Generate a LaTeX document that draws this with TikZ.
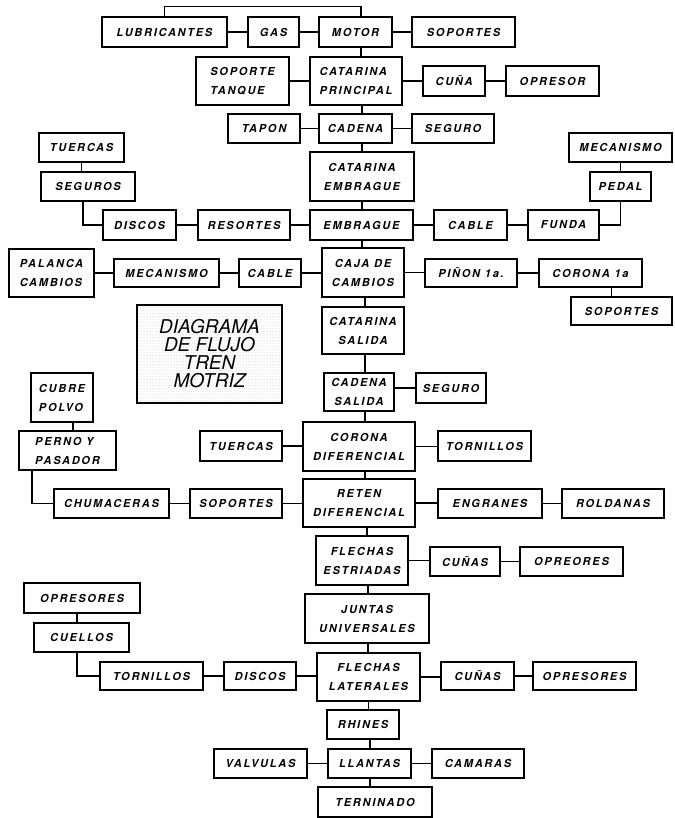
\documentclass[tikz,border=0pt]{standalone}
\usepackage{fontspec}
\setmainfont{TeX Gyre Heros}
\newfontfamily\lblfont[Extension=.otf, LetterSpace=16]{texgyreheros-bolditalic}
\usetikzlibrary{patterns}

% box given by its corners (left, top, right, bottom), y measured downwards
\newcommand\partbox[7][]{%
  \node[blk,#1,minimum width={(#5-#3)*1pt},minimum height={(#6-#4)*1pt}]
    (#2) at ({(#3+#5)/2},{-(#4+#6)/2}) {#7};}
% horizontal link at the height of the left / right box
\newcommand\hl[2]{\draw[link] (#1.east) -- (#1.east -| #2.west);}
\newcommand\hr[2]{\draw[link] (#2.west -| #1.east) -- (#2.west);}
% vertical link, shifted from the centre of the upper box
\newcommand\vl[3][0]{\draw[link] ([xshift=#1pt]#2.south) -- ([xshift=#1pt]#2.south |- #3.north);}

\begin{document}
\begin{tikzpicture}[x=1pt,y=1pt,
  blk/.style={draw, line width=1.2pt, inner sep=0pt, align=center,
    font=\lblfont\fontsize{11}{19}\selectfont},
  link/.style={line width=1.3pt},
  titlebox/.style={draw, line width=1.2pt, inner sep=0pt, align=center,
    pattern=dots, pattern color=black!30,
    font=\itshape\fontsize{19}{18}\selectfont},
]
\useasboundingbox (0,0) rectangle (674,-818);

% engine
\partbox{lub}{102}{17}{227}{47}{LUBRICANTES}
\partbox{gas}{248}{17}{299}{47}{GAS}
\partbox{mot}{319}{17}{392}{47}{MOTOR}
\partbox{sopa}{412}{17}{515}{47}{SOPORTES}
\partbox[align=left]{stq}{196}{57}{289}{105}{SOPORTE\\TANQUE}
\partbox[align=left]{catp}{310}{57}{402}{105}{CATARINA\\PRINCIPAL}
\partbox{cuna}{423}{66}{485}{96}{CUÑA}
\partbox{opra}{506}{66}{599}{96}{OPRESOR}
\partbox{tap}{228}{114}{300}{143}{TAPON}
\partbox{cad}{319}{114}{392}{143}{CADENA}
\partbox{sega}{412}{114}{494}{143}{SEGURO}

% clutch
\partbox{tuea}{39}{133}{124}{162}{TUERCAS}
\partbox{meca}{569}{133}{672}{162}{MECANISMO}
\partbox{cate}{310}{152}{414}{201}{CATARINA\\EMBRAGUE}
\partbox{segb}{41}{172}{135}{201}{SEGUROS}
\partbox{ped}{590}{172}{651}{201}{PEDAL}
\partbox{disa}{103}{210}{176}{240}{DISCOS}
\partbox{res}{198}{210}{290}{240}{RESORTES}
\partbox{emb}{310}{210}{413}{240}{EMBRAGUE}
\partbox{caba}{434}{210}{507}{240}{CABLE}
\partbox{fun}{528}{210}{599}{240}{FUNDA}

% gearbox
\partbox[align=left]{pal}{9}{249}{94}{297}{PALANCA\\CAMBIOS}
\partbox{mecb}{114}{259}{219}{287}{MECANISMO}
\partbox{cabb}{239}{259}{301}{287}{CABLE}
\partbox{caja}{322}{248}{404}{297}{CAJA DE\\CAMBIOS}
\partbox{pin}{425}{259}{517}{287}{PIÑON 1a.}
\partbox{cora}{539}{259}{642}{287}{CORONA 1a}
\partbox{sopb}{571}{297}{672}{325}{SOPORTES}

\node[titlebox, minimum width=145pt, minimum height=98pt] (ttl)
  at ({(137+282)/2},{-(305+403)/2}) {DIAGRAMA\\DE FLUJO\\TREN\\MOTRIZ};

% output chain and differential
\partbox{cats}{322}{307}{404}{354}{CATARINA\\SALIDA}
\partbox{cads}{324}{373}{394}{411}{CADENA\\SALIDA}
\partbox{segc}{416}{373}{486}{403}{SEGURO}
\partbox[align=left]{cub}{31}{373}{93}{422}{CUBRE\\POLVO}
\partbox[align=left]{per}{19}{431}{116}{470}{PERNO Y\\PASADOR}
\partbox{tueb}{200}{431}{282}{461}{TUERCAS}
\partbox{cord}{303}{422}{415}{471}{CORONA\\DIFERENCIAL}
\partbox{tora}{438}{431}{531}{461}{TORNILLOS}
\partbox{ret}{303}{479}{415}{527}{RETEN\\DIFERENCIAL}
\partbox{chu}{54}{489}{169}{518}{CHUMACERAS}
\partbox{sopc}{190}{489}{282}{518}{SOPORTES}
\partbox{eng}{438}{489}{542}{518}{ENGRANES}
\partbox{rol}{562}{489}{664}{518}{ROLDANAS}

% shafts
\partbox{fle}{316}{536}{408}{585}{FLECHAS\\ESTRIADAS}
\partbox{cunb}{430}{547}{500}{576}{CUÑAS}
\partbox{oprb}{520}{547}{623}{576}{OPREORES}
\partbox{oprc}{24}{583}{140}{613}{OPRESORES}
\partbox{cue}{34}{623}{129}{652}{CUELLOS}
\partbox{jun}{305}{594}{429}{643}{JUNTAS\\UNIVERSALES}
\partbox{torb}{100}{662}{203}{690}{TORNILLOS}
\partbox{disb}{224}{662}{296}{690}{DISCOS}
\partbox{fll}{317}{653}{420}{701}{FLECHAS\\LATERALES}
\partbox{cunc}{441}{662}{514}{690}{CUÑAS}
\partbox{oprd}{533}{662}{636}{690}{OPRESORES}

% wheels
\partbox{rhi}{327}{710}{399}{739}{RHINES}
\partbox{val}{214}{749}{307}{778}{VALVULAS}
\partbox{lla}{328}{749}{411}{778}{LLANTAS}
\partbox{cam}{432}{749}{524}{778}{CAMARAS}
\partbox{ter}{318}{787}{432}{817}{TERNINADO}

% links
\draw[link] (lub.north) -- ++(0,10) -| ([xshift=5.5pt]mot.north);
\hl{lub}{gas} \hl{gas}{mot} \hl{mot}{sopa}
\hl{stq}{catp} \hl{catp}{cuna} \hl{cuna}{opra}
\hl{tap}{cad} \hl{cad}{sega}
\vl[5.5]{mot}{catp} \vl[6]{catp}{cad} \vl[6.5]{cad}{cate}
\vl{cate}{emb}
\vl{tuea}{segb} \vl{meca}{ped}
\draw[link] ([xshift=-5pt]segb.south) |- (disa.west);
\hl{disa}{res} \hl{res}{emb} \hl{emb}{caba} \hl{caba}{fun}
\draw[link] (fun.east) -| (ped.south);
\vl[0.5]{emb}{caja}
\hl{pal}{mecb} \hl{mecb}{cabb} \hl{cabb}{caja} \hl{caja}{pin} \hl{pin}{cora}
\vl[21]{cora}{sopb}
\vl[2]{caja}{cats} \vl[2]{cats}{cads}
\hr{cads}{segc}
\vl[6]{cads}{cord}
\hl{tueb}{cord} \hl{cord}{tora}
\vl[11]{cub}{per}
\vl[6]{cord}{ret}
\draw[link] ([xshift=-35.5pt]per.south) |- (chu.west);
\hl{chu}{sopc} \hl{sopc}{ret} \hl{ret}{eng} \hl{eng}{rol}
\vl[8]{ret}{fle}
\hl{fle}{cunb} \hl{cunb}{oprb}
\vl[6]{fle}{jun} \vl[1]{jun}{fll}
\vl[-5]{oprc}{cue}
\draw[link] ([xshift=-4.5pt]cue.south) |- (torb.west);
\hl{torb}{disb} \hl{disb}{fll} \hl{fll}{cunc} \hl{cunc}{oprd}
\vl{fll}{rhi}
\vl[7]{rhi}{lla}
\hl{val}{lla} \hl{lla}{cam}
\vl[0.5]{lla}{ter}
\end{tikzpicture}
\end{document}
